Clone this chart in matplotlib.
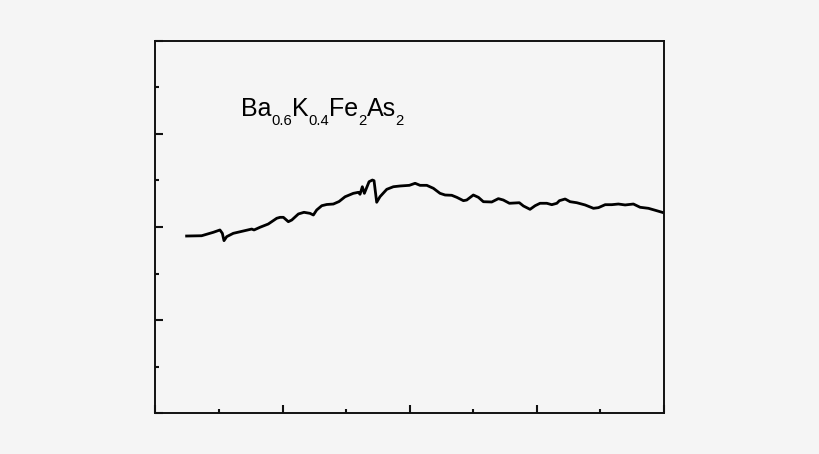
import matplotlib
matplotlib.use('Agg')
import matplotlib.pyplot as plt
from matplotlib.ticker import MultipleLocator, NullFormatter
from matplotlib.transforms import offset_copy

# curve (arbitrary units, axis 0..4 both ways)
x_vals = [0.245, 0.363, 0.455, 0.507, 0.526, 0.539, 0.560, 0.612, 0.691, 0.757,
          0.775, 0.822, 0.887, 0.954, 0.980, 1.006, 1.045, 1.072, 1.124, 1.168,
          1.215, 1.242, 1.268, 1.308, 1.347, 1.399, 1.444, 1.491, 1.556, 1.596,
          1.609, 1.627, 1.643, 1.680, 1.706, 1.719, 1.740, 1.766, 1.819, 1.871,
          1.924, 1.997, 2.042, 2.081, 2.134, 2.186, 2.238, 2.278, 2.330, 2.370,
          2.422, 2.448, 2.500, 2.540, 2.579, 2.645, 2.697, 2.736, 2.784, 2.862,
          2.894, 2.946, 2.986, 3.025, 3.078, 3.117, 3.157, 3.177, 3.222, 3.261,
          3.314, 3.379, 3.445, 3.484, 3.537, 3.589, 3.641, 3.694, 3.759, 3.812,
          3.877, 3.943, 3.995]
y_vals = [1.903, 1.906, 1.943, 1.968, 1.932, 1.853, 1.896, 1.932, 1.957, 1.978,
          1.968, 1.997, 2.032, 2.094, 2.104, 2.104, 2.057, 2.075, 2.140, 2.158,
          2.147, 2.129, 2.183, 2.229, 2.242, 2.247, 2.274, 2.325, 2.362, 2.373,
          2.352, 2.433, 2.362, 2.487, 2.505, 2.498, 2.266, 2.326, 2.405, 2.433,
          2.441, 2.448, 2.470, 2.448, 2.448, 2.416, 2.362, 2.344, 2.341, 2.319,
          2.283, 2.290, 2.344, 2.319, 2.272, 2.269, 2.305, 2.290, 2.255, 2.261,
          2.226, 2.190, 2.229, 2.255, 2.255, 2.240, 2.255, 2.283, 2.301, 2.272,
          2.261, 2.237, 2.201, 2.208, 2.240, 2.240, 2.247, 2.237, 2.247, 2.212,
          2.201, 2.175, 2.154]

# formula label: (text, is_subscript)
label_parts = [('Ba', False), ('0.6', True), ('K', False), ('0.4', True),
               ('Fe', False), ('2', True), ('As', False), ('2', True)]

plt.rcParams['font.family'] = ['Liberation Sans', 'DejaVu Sans']

bg = '#f5f5f5'
fig = plt.figure(figsize=(8.2, 4.54), dpi=100, facecolor=bg)
ax = fig.add_axes([0.1896, 0.0903, 0.6202, 0.8194], facecolor=bg)

ax.plot(x_vals, y_vals, color='black', lw=2.0, solid_joinstyle='round')

ax.set_xlim(0, 4)
ax.set_ylim(0, 4)
ax.xaxis.set_major_locator(MultipleLocator(1))
ax.xaxis.set_minor_locator(MultipleLocator(0.5))
ax.yaxis.set_major_locator(MultipleLocator(1))
ax.yaxis.set_minor_locator(MultipleLocator(0.5))
ax.xaxis.set_major_formatter(NullFormatter())
ax.yaxis.set_major_formatter(NullFormatter())
ax.tick_params(which='both', direction='in', width=1.5, color='#111111')
ax.tick_params(which='major', length=6)
ax.tick_params(which='minor', length=3)
for sp in ax.spines.values():
    sp.set_linewidth(1.4)
    sp.set_color('#111111')

# write the formula piece by piece so subscripts sit low like the original
renderer = fig.canvas.get_renderer()
dx = 0.0
for txt, sub in label_parts:
    size = 10.6 if sub else 18
    dy = -6.7 if sub else 0.0
    tr = offset_copy(ax.transData, fig=fig, x=dx, y=dy, units='points')
    t = ax.text(0.67, 3.197, txt, fontsize=size, ha='left', va='baseline',
                transform=tr)
    w = t.get_window_extent(renderer).width
    dx += w * 72.0 / fig.dpi

fig.savefig('out.png', dpi=100, facecolor=bg)
